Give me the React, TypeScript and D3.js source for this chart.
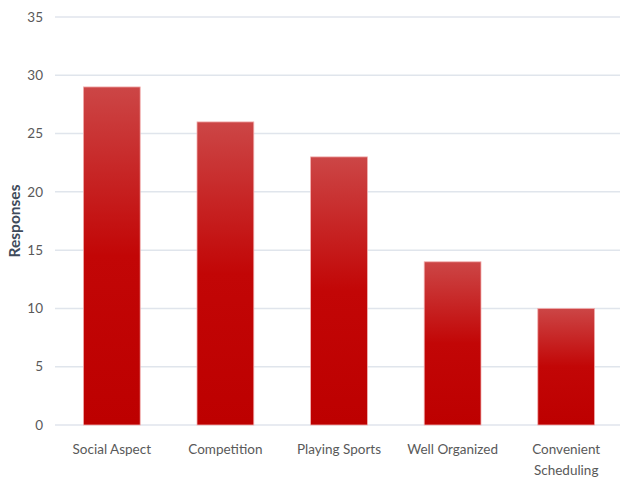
import React from "react";
import * as d3 from "d3";

const categories: string[][] = [
  ["Social Aspect"],
  ["Competition"],
  ["Playing Sports"],
  ["Well Organized"],
  ["Convenient", "Scheduling"],
];
const values: number[] = [29, 26, 23, 14, 10];
const yTicks: number[] = [0, 5, 10, 15, 20, 25, 30, 35];
const yTitle = "Responses";

const W = 620;
const H = 478;
const left = 55;
const right = 623;
const top = 17;
const bottom = 425;
const font = "Lato, 'Open Sans', sans-serif";

export default function App() {
  const x = d3
    .scaleBand<number>()
    .domain(values.map((_, i) => i))
    .range([left, right])
    .paddingInner(0.5)
    .paddingOuter(0.25);
  const y = d3.scaleLinear().domain([0, 35]).range([bottom, top]);

  return (
    <svg
      width={W}
      height={H}
      style={{ position: "absolute", left: 0, top: 0, background: "#fff" }}
    >
      <defs>
        <linearGradient id="barGrad" x1="0" y1="0" x2="0" y2="1">
          <stop offset="0%" stopColor="#cc4646" />
          <stop offset="50%" stopColor="#c20606" />
          <stop offset="100%" stopColor="#bd0000" />
        </linearGradient>
      </defs>
      {yTicks.map((t) => (
        <g key={t}>
          <line
            x1={left}
            x2={W}
            y1={y(t)}
            y2={y(t)}
            stroke="#e0e5ec"
            strokeWidth={1.5}
          />
          <text
            x={43}
            y={y(t)}
            dy="0.35em"
            textAnchor="end"
            fontFamily={font}
            fontSize={13.5}
            fill="#595959"
          >
            {t}
          </text>
        </g>
      ))}
      {values.map((v, i) => (
        <rect
          key={i}
          x={x(i)!}
          y={y(v)}
          width={x.bandwidth()}
          height={y(0) - y(v)}
          fill="url(#barGrad)"
          stroke="#f2b0b0"
          strokeWidth={0.8}
        />
      ))}
      {categories.map((lines, i) => (
        <text
          key={i}
          x={x(i)! + x.bandwidth() / 2}
          y={454}
          textAnchor="middle"
          fontFamily={font}
          fontSize={13.5}
          fill="#595959"
        >
          {lines.map((l, j) => (
            <tspan key={j} x={x(i)! + x.bandwidth() / 2} dy={j === 0 ? 0 : 21}>
              {l}
            </tspan>
          ))}
        </text>
      ))}
      <text
        transform={`translate(20, ${(top + bottom) / 2}) rotate(-90)`}
        textAnchor="middle"
        fontFamily={font}
        fontSize={15.5}
        fontWeight="bold"
        fill="#3f4b5b"
      >
        {yTitle}
      </text>
    </svg>
  );
}
